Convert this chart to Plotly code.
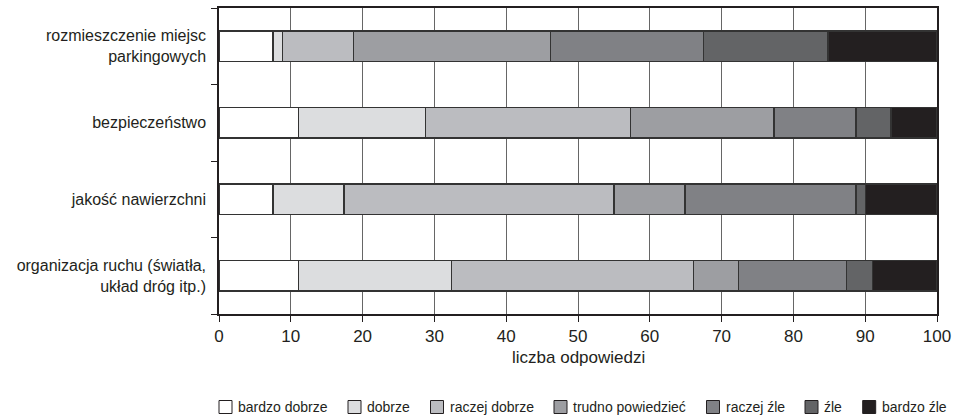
import plotly.graph_objects as go

categories = [
    "rozmieszczenie miejsc<br>parkingowych",
    "bezpieczeństwo",
    "jakość nawierzchni",
    "organizacja ruchu (światła,<br>układ dróg itp.)",
]
series_names = ["bardzo dobrze", "dobrze", "raczej dobrze", "trudno powiedzieć",
                "raczej źle", "źle", "bardzo źle"]
bardzo_dobrze = [7.5, 11.1, 7.5, 11.1]
dobrze = [1.3, 17.7, 9.9, 21.3]
raczej_dobrze = [9.9, 28.5, 37.6, 33.7]
trudno = [27.5, 20.0, 9.9, 6.3]
raczej_zle = [21.3, 11.4, 23.8, 15.0]
zle = [17.3, 4.9, 1.3, 3.6]
bardzo_zle = [15.2, 6.4, 10.0, 8.9]
series_values = [bardzo_dobrze, dobrze, raczej_dobrze, trudno, raczej_zle, zle, bardzo_zle]
colors = ["#ffffff", "#dcdddf", "#bbbcc0", "#9d9ea2", "#808185", "#636466", "#231f20"]
x_ticks = list(range(0, 101, 10))

# layout geometry (pixels)
W, H = 953, 416
ML, MR, MT, MB = 219, 16, 8, 102
PW, PH = W - ML - MR, H - MT - MB


def fx(px):
    return (px - ML) / PW


def fy(py):
    return (H - MB - py) / PH


fig = go.Figure()
for name, vals, col in zip(series_names, series_values, colors):
    fig.add_trace(go.Bar(
        y=categories, x=vals, name=name, orientation="h",
        marker=dict(color=col, line=dict(color="#333333", width=1.3)),
        width=0.4, showlegend=False,
    ))

# hand-built single-row legend below the chart
legend_box_left = [219, 348, 430.5, 554, 706.5, 805, 862.7]
legend_y = 407
shapes, annotations = [], []
for name, col, bx in zip(series_names, colors, legend_box_left):
    shapes.append(dict(type="rect", xref="paper", yref="paper",
                       x0=fx(bx), x1=fx(bx + 13), y0=fy(legend_y + 6.5), y1=fy(legend_y - 6.5),
                       fillcolor=col, line=dict(color="#231f20", width=1)))
    annotations.append(dict(xref="paper", yref="paper", x=fx(bx + 17), y=fy(legend_y),
                            xanchor="left", yanchor="middle", showarrow=False,
                            text=name, font=dict(size=14, color="#231f20")))

# axis title
annotations.append(dict(xref="paper", yref="paper", x=0.5, y=fy(357),
                        xanchor="center", yanchor="middle", showarrow=False,
                        text="liczba odpowiedzi", font=dict(size=17, color="#231f20")))

fig.update_layout(
    barmode="stack",
    width=W, height=H,
    margin=dict(l=ML, r=MR, t=MT, b=MB),
    paper_bgcolor="white", plot_bgcolor="white",
    font=dict(family="Liberation Sans, Arial, sans-serif", color="#231f20", size=13),
    showlegend=False,
    shapes=shapes,
    annotations=annotations,
)
fig.update_xaxes(
    range=[0, 100], tickvals=x_ticks, ticktext=[str(t) for t in x_ticks],
    showgrid=True, gridcolor="#666666", gridwidth=1,
    showline=True, linecolor="#231f20", linewidth=1.5, mirror=True,
    ticks="outside", ticklen=6, tickcolor="#231f20",
    tickfont=dict(size=17), zeroline=False, automargin=False,
)
fig.update_yaxes(
    categoryorder="array", categoryarray=categories[::-1],
    showgrid=False, showline=True, linecolor="#231f20", linewidth=1.5, mirror=True,
    ticks="outside", ticklen=6, tickcolor="#231f20", tickson="boundaries",
    tickfont=dict(size=16), ticklabelstandoff=8, automargin=False,
)
fig.write_html("out.html", config={"displayModeBar": False},
               post_script="document.body.style.margin='0';")
